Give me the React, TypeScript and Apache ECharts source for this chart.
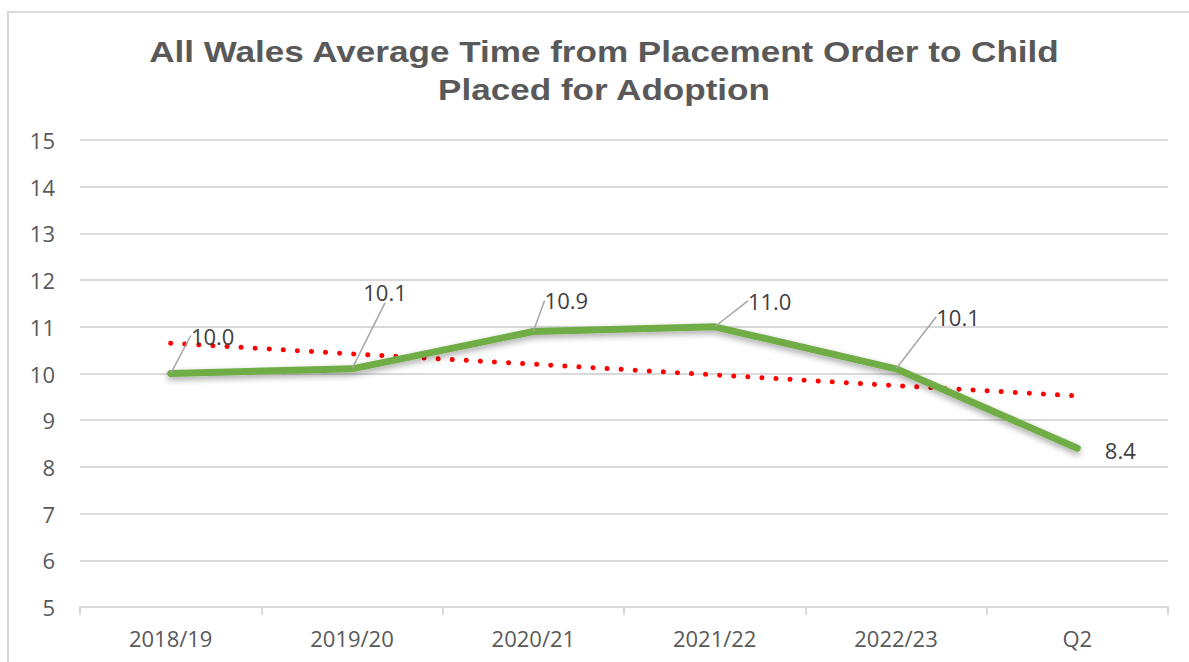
import React, { useEffect, useRef } from "react";
import * as echarts from "echarts";

const categories = ["2018/19", "2019/20", "2020/21", "2021/22", "2022/23", "Q2"];
const averageMonths = [10.0, 10.1, 10.9, 11.0, 10.1, 8.4];
const trendValues = [10.65, 10.42, 10.2, 9.97, 9.74, 9.52];
const yTicks = { min: 5, max: 15, interval: 1 };
const titleLines = ["All Wales Average Time from Placement Order to Child", "Placed for Adoption"];

const labelOffsets = [
  [42, -38],
  [33, -77],
  [33, -31],
  [55, -26],
  [62, -52],
  [43, 2],
];
const labelLineHidden = [false, false, false, false, false, true];

export default function App() {
  const ref = useRef<HTMLDivElement>(null);
  useEffect(() => {
    if (!ref.current) return;
    const chart = echarts.init(ref.current, undefined, { renderer: "svg" });
    const titleFont = "'Liberation Sans', Arial, sans-serif";
    const font = "'Open Sans', 'Liberation Sans', sans-serif";
    chart.setOption({
      animation: false,
      backgroundColor: "#ffffff",
      grid: { left: 80, right: 21, top: 140, bottom: 55, containLabel: false },
      graphic: [
        {
          type: "rect",
          shape: { x: 8, y: 12, width: 1300, height: 800 },
          style: { fill: "none", stroke: "#d9d9d9", lineWidth: 2 },
          silent: true,
        },
        {
          type: "text",
          x: 604,
          y: 32,
          scaleX: 1.17,
          style: {
            text: titleLines.join("\n"),
            fontSize: 30,
            fontWeight: "bold",
            fontFamily: titleFont,
            fill: "#595959",
            align: "center",
            verticalAlign: "top",
            lineHeight: 38,
          },
        },
      ],
      xAxis: {
        type: "category",
        data: categories,
        boundaryGap: true,
        axisLine: { lineStyle: { color: "#d9d9d9", width: 2 } },
        axisTick: { show: true, length: 8, lineStyle: { color: "#d9d9d9", width: 2 } },
        axisLabel: { color: "#595959", fontSize: 22, fontFamily: font, margin: 20 },
      },
      yAxis: {
        type: "value",
        min: yTicks.min,
        max: yTicks.max,
        interval: yTicks.interval,
        axisLine: { show: false },
        axisTick: { show: false },
        splitLine: { lineStyle: { color: "#d9d9d9", width: 2 } },
        axisLabel: { color: "#595959", fontSize: 22, fontFamily: font, margin: 25 },
      },
      series: [
        {
          name: "Trend",
          type: "line",
          data: trendValues,
          symbol: "none",
          z: 2,
          lineStyle: { color: "#ff0000", width: 5, type: [0.1, 14], cap: "round" },
        },
        {
          name: "Average",
          type: "line",
          data: averageMonths.map((v, i) =>
            labelLineHidden[i] ? { value: v, labelLine: { show: false } } : v
          ),
          symbol: "circle",
          symbolSize: 1,
          showSymbol: true,
          z: 3,
          itemStyle: { color: "#70ad47" },
          lineStyle: {
            color: "#70ad47",
            width: 7,
            join: "round",
            cap: "round",
            shadowColor: "rgba(0,0,0,0.35)",
            shadowBlur: 6,
            shadowOffsetY: 3,
          },
          label: {
            show: true,
            position: "inside",
            formatter: (p: any) => Number(p.value).toFixed(1),
            color: "#404040",
            fontSize: 22,
            fontFamily: font,
          },
          labelLine: { show: true, lineStyle: { color: "#a6a6a6", width: 1.5 } },
          labelLayout: (p: any) => ({
            dx: labelOffsets[p.dataIndex][0],
            dy: labelOffsets[p.dataIndex][1],
          }),
        },
      ],
    });
    return () => chart.dispose();
  }, []);
  return (
    <div
      ref={ref}
      style={{ position: "fixed", left: 0, top: 0, width: 1189, height: 662, background: "#fff" }}
    />
  );
}
